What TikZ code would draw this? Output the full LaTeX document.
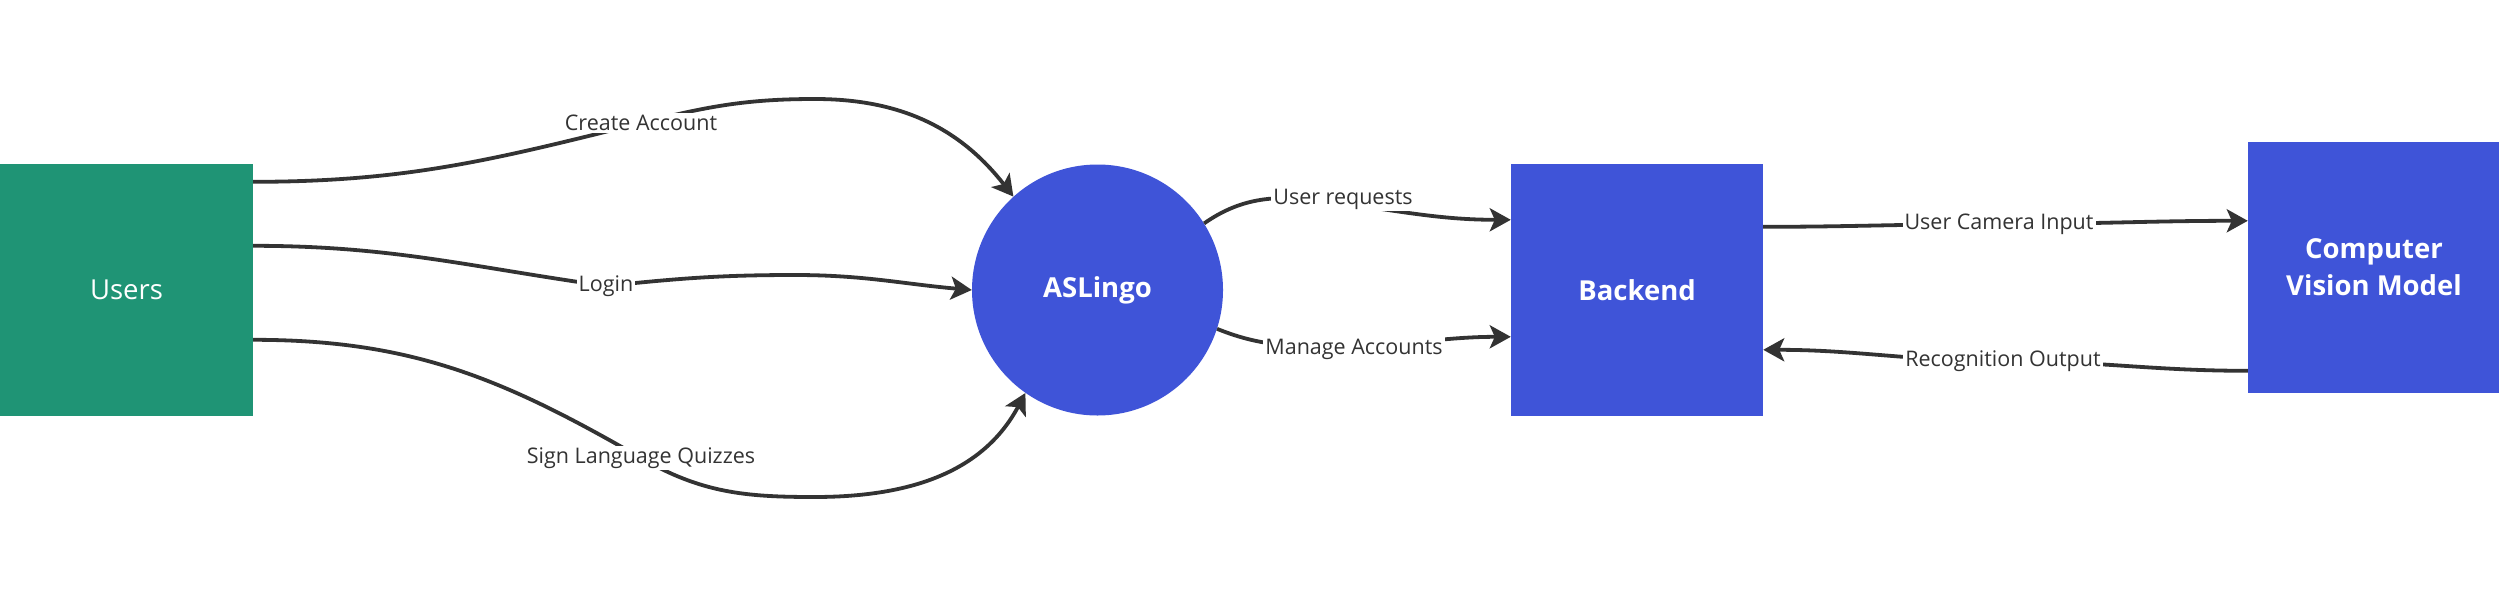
\documentclass[tikz,border=0pt]{standalone}
\usepackage{fontspec}
\setmainfont{Open Sans}
\usetikzlibrary{arrows.meta}
\definecolor{usergreen}{HTML}{1F9475}
\definecolor{procblue}{HTML}{3F54D8}
\definecolor{linegray}{HTML}{333333}
\begin{document}
\begin{tikzpicture}[x=1pt,y=1pt,
  entity/.style={draw=none, inner sep=0pt, text=white, align=center,
    font=\fontsize{27.5}{37}\selectfont},
  flow/.style={draw=linegray, line width=3.8pt,
    -{Stealth[length=21pt,width=23pt,inset=5pt]}},
  lbl/.style={fill=white, inner sep=2pt, text=linegray,
    font=\fontsize{21.5}{26}\selectfont}]
\useasboundingbox (0,0) rectangle (2499,-600);
\fill[white] (0,0) rectangle (2499,-600);
% nodes
\node[entity, fill=usergreen, minimum width=253pt, minimum height=252pt] (users) at (126.5,-290) {Users};
\node[entity, fill=procblue, circle, minimum size=251pt, font=\fontsize{27.5}{37}\selectfont\bfseries] (aslingo) at (1097.5,-290) {ASLingo};
\node[entity, fill=procblue, minimum width=252pt, minimum height=252pt, font=\fontsize{27.5}{37}\selectfont\bfseries] (backend) at (1637,-290) {Backend};
\node[entity, fill=procblue, minimum width=252pt, minimum height=251pt, font=\fontsize{27.5}{37}\selectfont\bfseries] (cv) at (2374,-267.5) {Computer\\Vision Model};
% anchor points
\coordinate (u1) at ([yshift=-18pt]users.north east);
\coordinate (u2) at ([yshift=-82pt]users.north east);
\coordinate (u3) at ([yshift=-176pt]users.north east);
\coordinate (pk1) at (815,-99);
\coordinate (lo1) at (795,-275);
\coordinate (bt3) at (814,-497);
% connectors
\draw[flow] (u1) to[out=0,in=194] (641,-123) to[out=14,in=180] (pk1) to[out=0,in=128] (aslingo.132);
\node[lbl] at (641,-123) {Create Account};
\draw[flow] (u2) to[out=0,in=172] (606,-286) to[out=6,in=180] (lo1) to[out=0,in=175] (aslingo.west);
\node[lbl] at (606,-286) {Login};
\draw[flow] (u3) to[out=0,in=150] (641,-458) to[out=-30,in=180] (bt3) to[out=0,in=-118] (aslingo.235);
\node[lbl] at (641,-458) {Sign Language Quizzes};
\draw[flow] (aslingo.32) to[out=35,in=172] (1340,-203) to[out=-8,in=180] ([yshift=-56pt]backend.north west);
\node[lbl] at (1343,-199) {User requests};
\draw[flow] (aslingo.-18) to[out=-22,in=180] (1354,-346) to[out=2,in=180] ([yshift=-173pt]backend.north west);
\node[lbl] at (1354,-349) {Manage Accounts};
\draw[flow] ([yshift=-63pt]backend.north east) to[out=0,in=180] (1999,-224) to[out=0,in=180] ([yshift=-79pt]cv.north west);
\node[lbl] at (1999,-224) {User Camera Input};
\draw[flow] ([yshift=-229pt]cv.north west) to[out=180,in=0] (2003,-361) to[out=180,in=0] ([yshift=-186pt]backend.north east);
\node[lbl] at (2003,-361) {Recognition Output};
\end{tikzpicture}
\end{document}
